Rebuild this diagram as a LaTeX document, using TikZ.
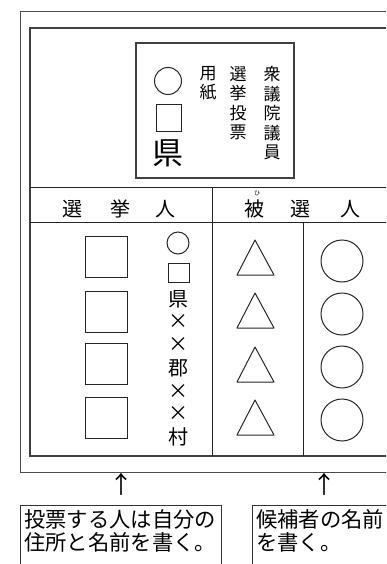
\documentclass[tikz,border=0pt]{standalone}
\usepackage{fontspec}
\newfontfamily\jp{Noto Sans CJK JP}
\begin{document}
\begin{tikzpicture}[x=1pt,y=-1pt,
  outerframe/.style={draw=black!70, line width=1pt},
  innerframe/.style={draw=black!75, line width=1.5pt},
  rule/.style={draw=black!85, line width=0.9pt},
  fig/.style={draw=black!85, line width=1pt},
  vtext/.style={inner sep=0pt, anchor=north, align=center, font=\jp\fontsize{17}{19.6}\selectfont},
  chr/.style={inner sep=0pt, font=\jp\fontsize{20}{20}\selectfont},
  xchr/.style={inner sep=0pt, font=\jp\fontsize{20}{20}\selectfont},
  arr/.style={inner sep=0pt, font=\jp\fontsize{24}{24}\selectfont},
  head/.style={inner sep=0pt, font=\jp\fontsize{20}{20}\selectfont},
  note/.style={inner sep=0pt, anchor=west, font=\jp\fontsize{21.3}{22}\selectfont},
  notebox/.style={draw=black!80, line width=1pt}]
\useasboundingbox (0,0) rectangle (386,564);
\clip (0,0) rectangle (386,564);
% outer and inner frames
\draw[outerframe] (20,12) rectangle (400,472);
\draw[innerframe] (30,28) rectangle (400,456);
% title box
\draw[innerframe, line width=1.2pt] (136,43) rectangle (294,178);
\node[vtext] (t1) at (272,66) {衆\\議\\院\\議\\員};
\node[vtext] (t2) at (238,66) {選\\挙\\投\\票};
\node[vtext] (t3) at (208,66) {用\\紙};
\draw[fig] (168,81) circle (13.5);
\draw[fig] (156,105) rectangle (181,132);
\node[inner sep=0pt, font=\jp\fontsize{31}{31}\selectfont] (ken) at (168,153) {県};
% table rules
\draw[rule] (30,187) -- (400,187);
\draw[rule] (30,222) -- (400,222);
\draw[rule] (212,187) -- (212,456);
\draw[rule] (303,222) -- (303,456);
% headers
\node[head] (h1) at (72,209) {選};
\node[head] (h2) at (120,209) {挙};
\node[head] (h3) at (165,209) {人};
\node[head] (h4) at (254,209) {被};
\node[inner sep=0pt, font=\jp\fontsize{6}{6}\selectfont] (ruby) at (257,193) {ひ};
\node[head] (h5) at (300,209) {選};
\node[head] (h6) at (350,209) {人};
% voter squares
\foreach \y in {236,291,343,397}
  \draw[fig] (85,\y) rectangle (127,\y+41);
% address column
\draw[fig] (178,243) circle (11);
\draw[fig] (168,263) rectangle (189,282);
\node[chr] (a1) at (178,299) {県};
\node[xchr] (a2) at (178,322) {×};
\node[xchr] (a3) at (178,345) {×};
\node[chr] (a4) at (178,368) {郡};
\node[xchr] (a5) at (178,392) {×};
\node[xchr] (a6) at (178,414) {×};
\node[chr] (a7) at (178,437) {村};
% triangles
\foreach \y in {240,293,347,400}
  \draw[fig, line join=round] (255,\y) -- (274,\y+35) -- (237,\y+35) -- cycle;
% circles
\foreach \y in {261,314,367,420}
  \draw[fig] (342,\y) circle (21);
% arrows
\node[arr] (ar1) at (121,484) {↑};
\node[arr] (ar2) at (324,484) {↑};
% note boxes
\draw[notebox] (20,570) -- (20,505) -- (221,505) -- (221,570);
\draw[notebox] (252,570) -- (252,505) -- (400,505);
\node[note] (n1) at (24,519) {投票する人は自分の};
\node[note] (n2) at (24,542) {住所と名前を書く。};
\node[note] (n3) at (256,519) {候補者の名前};
\node[note] (n4) at (256,542) {を書く。};
\end{tikzpicture}
\end{document}
